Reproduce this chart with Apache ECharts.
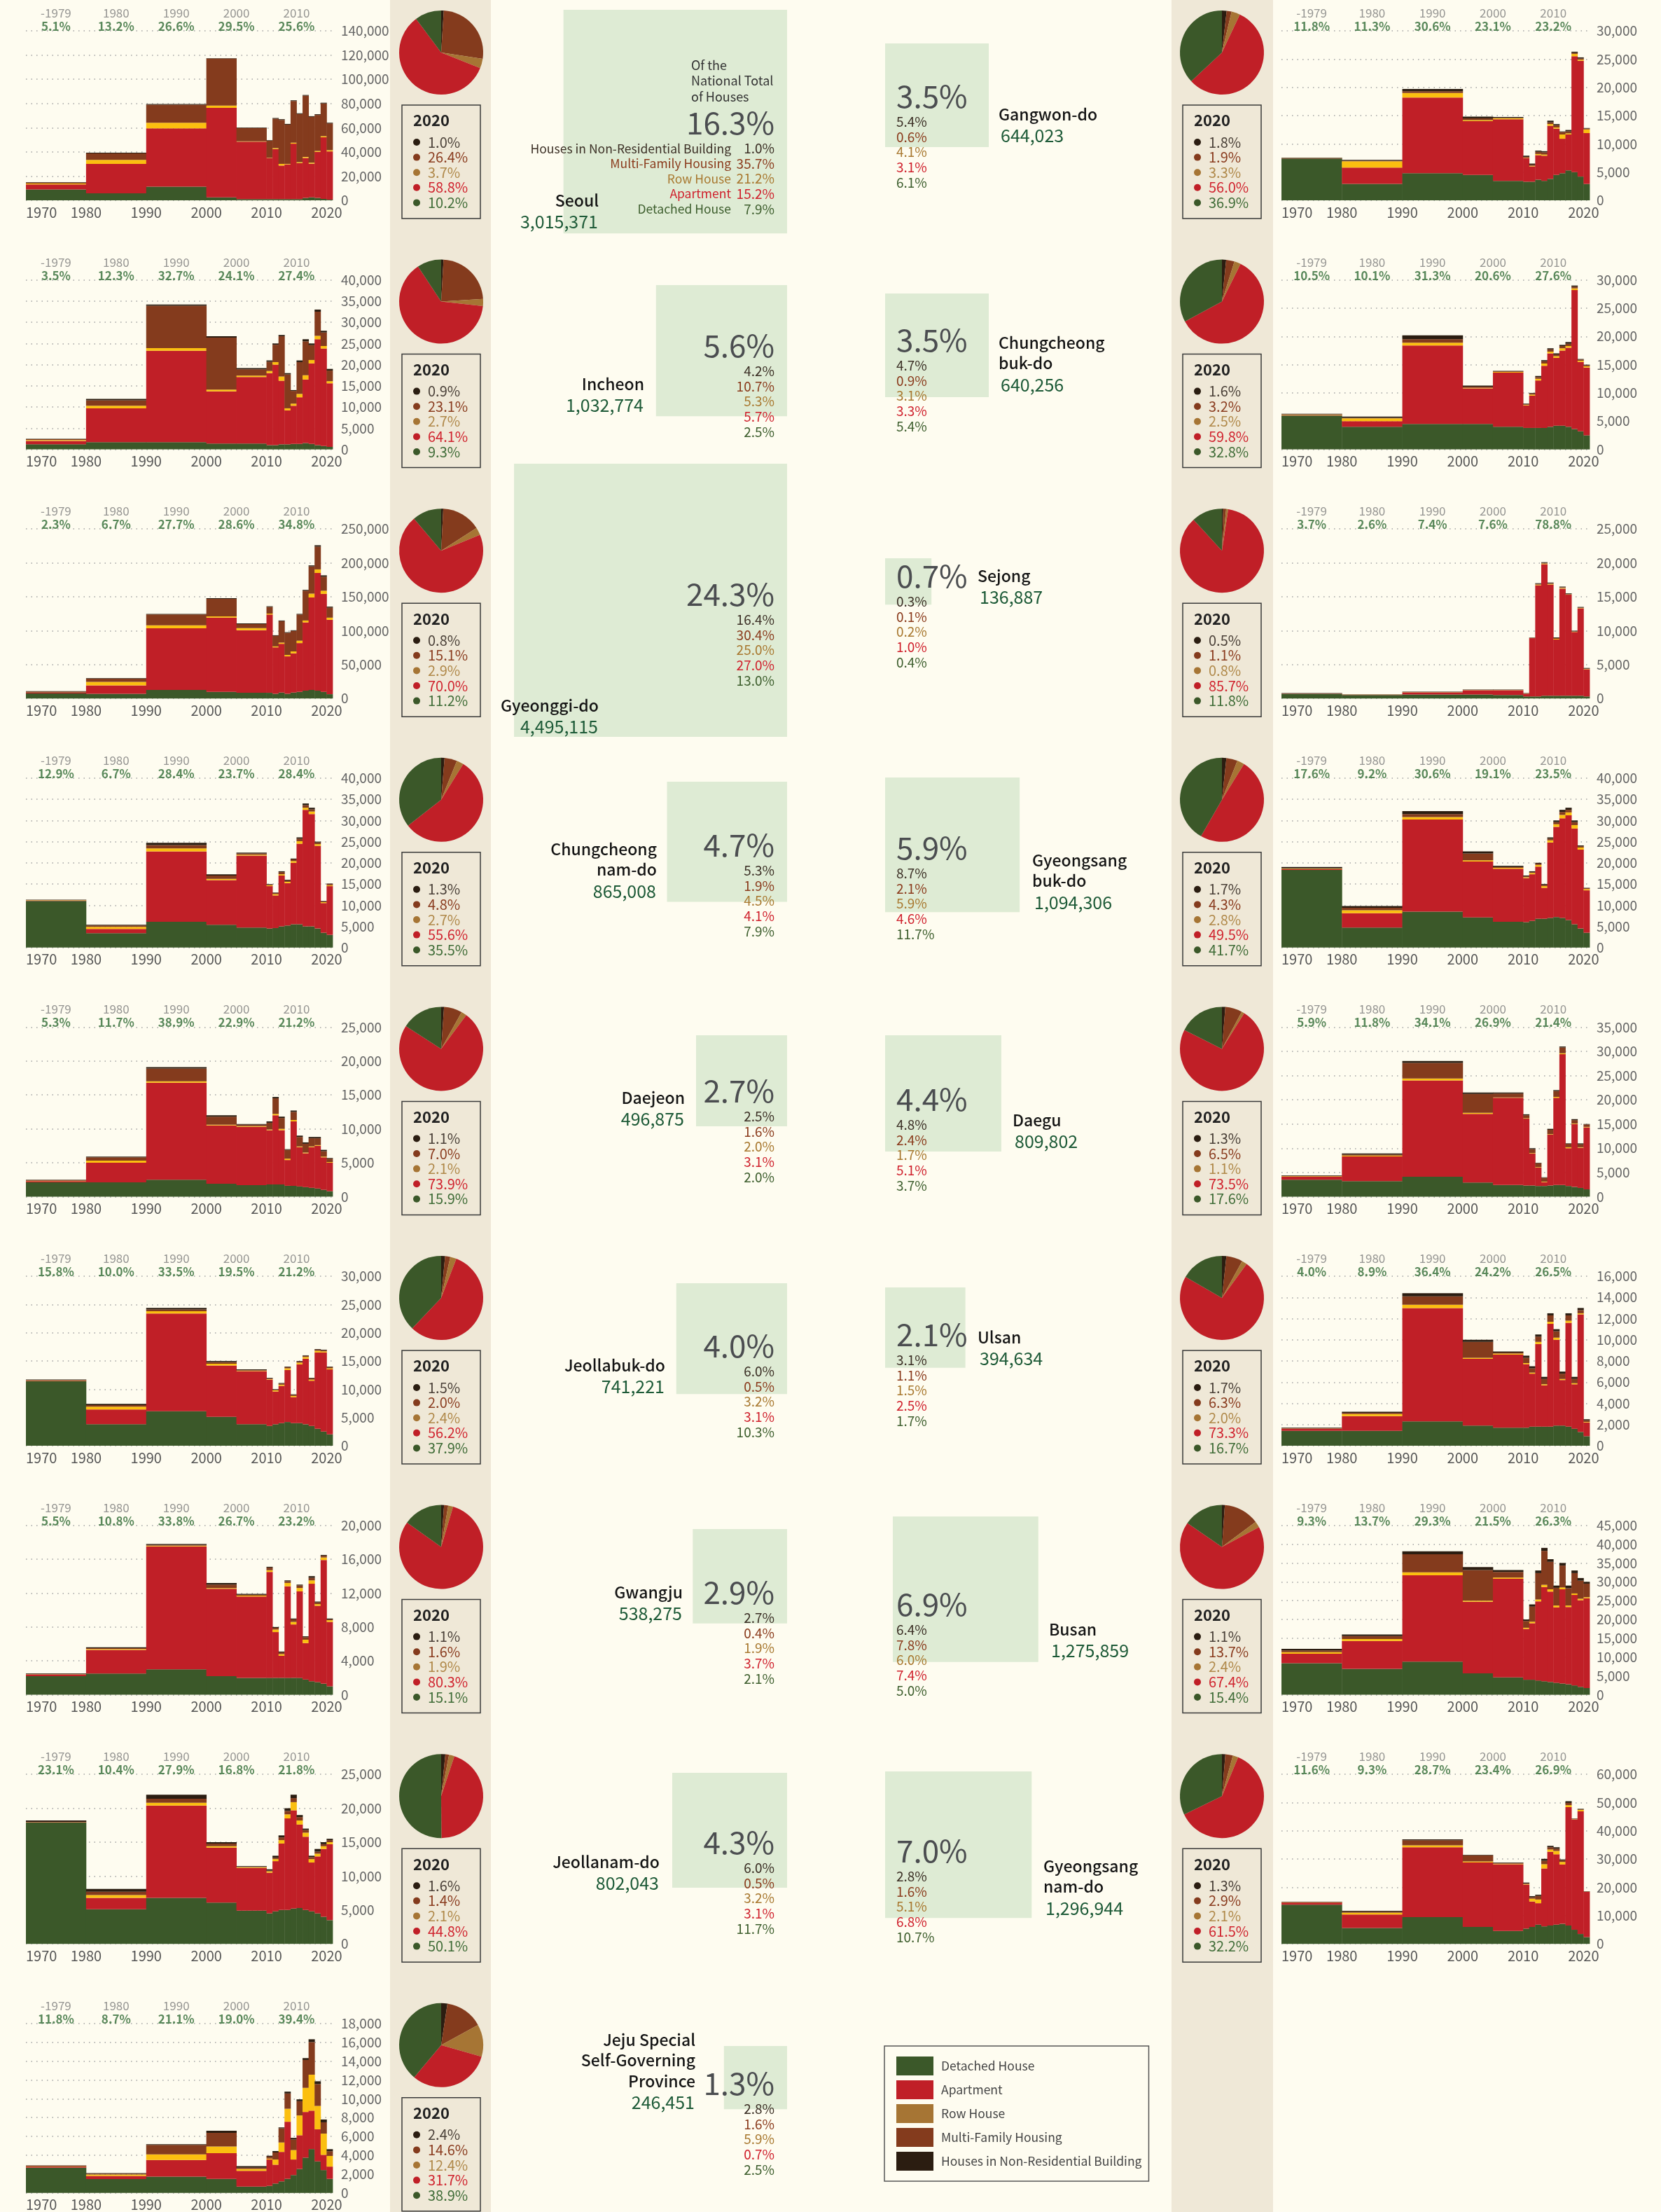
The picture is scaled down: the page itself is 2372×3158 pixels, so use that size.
<!DOCTYPE html>
<html>
<head>
<meta charset="utf-8">
<script src="https://cdn.jsdelivr.net/npm/echarts@6/dist/echarts.min.js"></script>
<style>
  html, body { margin: 0; padding: 0; background: #fefcf0; }
  #main { width: 2372px; height: 3158px; }
</style>
</head>
<body>
<div id="main"></div>
<script>
// periods: 1970s, 1980s, 1990s, 2000-04, 2005-09, then one bar per year 2010..2020
const periodStart = [1970, 1980, 1990, 2000, 2005, 2010, 2011, 2012, 2013, 2014, 2015, 2016, 2017, 2018, 2019, 2020]
const periodEnd   = [1980, 1990, 2000, 2005, 2010, 2011, 2012, 2013, 2014, 2015, 2016, 2017, 2018, 2019, 2020, 2021]
const decadeYears = ['-1979', '1980', '1990', '2000', '2010']
const decadeMid = [1975, 1985, 1995, 2005, 2015]
// top-to-bottom order used by pies, 2020 boxes and share lists
const typeNames = ['Houses in Non-Residential Building', 'Multi-Family Housing', 'Row House', 'Apartment', 'Detached House']
const legendOrder = ['Detached House', 'Apartment', 'Row House', 'Multi-Family Housing', 'Houses in Non-Residential Building']

// houses built per year, by type
const seoulDet = [8900, 5800, 11300, 2500, 1000, 1000, 1000, 1000, 1000, 1000, 1000, 2000, 2500, 2000, 1200, 600]
const seoulApt = [4300, 24300, 48100, 73800, 47500, 34000, 41300, 27700, 28700, 45800, 29700, 33000, 27800, 38000, 50800, 39800]
const seoulRow = [700, 3300, 4700, 2000, 200, 200, 800, 1400, 400, 800, 800, 800, 800, 800, 1000, 1000]
const seoulMul = [800, 5400, 14900, 38800, 11100, 14100, 24300, 36300, 32400, 34400, 39800, 50600, 37800, 29700, 27000, 22100]
const seoulNon = [400, 600, 600, 400, 400, 400, 600, 600, 600, 600, 600, 600, 600, 600, 600, 600]

const incheonDet = [1200, 1700, 1700, 1400, 1400, 1000, 1000, 1200, 1200, 1300, 1300, 1500, 1300, 1000, 800, 600]
const incheonApt = [800, 8000, 21600, 12300, 15700, 17000, 19000, 15000, 8000, 9000, 11000, 15000, 19000, 25000, 23000, 15000]
const incheonRow = [200, 600, 600, 400, 300, 500, 600, 1000, 500, 500, 800, 1000, 800, 800, 600, 500]
const incheonMul = [200, 1300, 10000, 12300, 1500, 2200, 4100, 9500, 8000, 3000, 7500, 8000, 3500, 5700, 3200, 2500]
const incheonNon = [100, 300, 300, 300, 300, 300, 300, 300, 300, 200, 400, 500, 400, 500, 400, 400]

const gyeonggiDet = [7500, 7000, 12600, 9800, 8400, 8400, 7000, 8800, 7000, 8800, 9800, 11600, 12600, 11600, 9800, 6300]
const gyeonggiApt = [1000, 12300, 90800, 109400, 92200, 115400, 68400, 71800, 55100, 57800, 71900, 100600, 136400, 173500, 144500, 109700]
const gyeonggiRow = [300, 5200, 4600, 1800, 3200, 1400, 1400, 1800, 2100, 2800, 3500, 2800, 5600, 5300, 4600, 3200]
const gyeonggiMul = [1600, 4600, 15800, 25900, 5900, 9800, 15500, 31600, 32600, 30200, 38600, 44000, 40200, 33600, 20700, 14800]
const gyeonggiNon = [500, 700, 1000, 1100, 1100, 1000, 1000, 1000, 1000, 1000, 1000, 1200, 1500, 2000, 2000, 1500]

const chungnamDet = [11000, 3400, 6100, 5400, 4700, 4500, 4600, 5000, 5200, 5500, 5500, 5000, 5000, 4500, 3500, 3000]
const chungnamApt = [100, 1000, 16600, 10500, 17000, 10000, 7700, 12000, 10000, 14500, 19000, 27500, 26500, 19500, 7000, 11500]
const chungnamRow = [50, 500, 700, 300, 200, 200, 300, 300, 300, 400, 600, 500, 600, 400, 200, 200]
const chungnamMul = [50, 300, 800, 800, 300, 200, 300, 500, 300, 400, 600, 600, 500, 400, 200, 300]
const chungnamNon = [100, 200, 500, 300, 200, 100, 100, 200, 200, 200, 300, 400, 400, 200, 100, 100]

const daejeonDet = [2100, 2100, 2500, 1900, 1700, 1800, 1800, 1800, 1600, 1600, 1500, 1400, 1300, 1200, 1000, 800]
const daejeonApt = [200, 2900, 14300, 8600, 8600, 8000, 10200, 8000, 3800, 9500, 5800, 5000, 6000, 6300, 4800, 4200]
const daejeonRow = [50, 300, 200, 100, 100, 100, 200, 200, 200, 200, 100, 100, 100, 100, 100, 100]
const daejeonMul = [100, 500, 1900, 1200, 200, 1000, 2300, 1600, 1300, 1200, 1400, 1300, 1200, 1000, 800, 500]
const daejeonNon = [50, 100, 200, 200, 100, 200, 200, 200, 100, 200, 200, 200, 200, 200, 200, 100]

const jeonbukDet = [11400, 3800, 6100, 5100, 3800, 3500, 3800, 4000, 4200, 4000, 4000, 3800, 3500, 3000, 2500, 2000]
const jeonbukApt = [100, 2600, 17300, 9100, 9400, 8200, 5800, 6600, 9200, 4600, 10400, 11600, 8000, 13500, 14000, 11500]
const jeonbukRow = [50, 500, 400, 300, 100, 100, 200, 200, 300, 200, 300, 300, 200, 300, 200, 200]
const jeonbukMul = [50, 300, 300, 300, 100, 100, 100, 200, 200, 200, 200, 200, 200, 200, 200, 200]
const jeonbukNon = [100, 200, 300, 200, 100, 100, 100, 100, 100, 100, 100, 100, 100, 100, 100, 100]

const gwangjuDet = [2200, 2500, 3000, 2200, 2000, 2000, 2000, 2000, 2000, 2000, 2000, 1800, 1600, 1500, 1300, 1000]
const gwangjuApt = [200, 2800, 14500, 10300, 9600, 12500, 5400, 2600, 10800, 6300, 10200, 4300, 11500, 9000, 14600, 7600]
const gwangjuRow = [20, 100, 100, 100, 100, 200, 300, 200, 400, 300, 400, 400, 400, 200, 300, 200]
const gwangjuMul = [50, 100, 100, 400, 100, 300, 200, 200, 200, 300, 300, 300, 300, 200, 200, 100]
const gwangjuNon = [50, 100, 100, 200, 100, 100, 100, 100, 100, 100, 100, 100, 200, 100, 100, 100]

const jeonnamDet = [17900, 5100, 6800, 6100, 4900, 4500, 4800, 5000, 5000, 5200, 5300, 5000, 4800, 4500, 4000, 3500]
const jeonnamApt = [50, 1700, 13600, 8100, 6300, 6000, 7400, 9800, 13500, 14500, 12300, 10800, 7200, 8400, 10000, 11200]
const jeonnamRow = [20, 400, 400, 200, 100, 200, 300, 500, 600, 1200, 600, 600, 500, 400, 400, 300]
const jeonnamMul = [30, 500, 600, 400, 50, 100, 200, 400, 500, 600, 500, 400, 300, 300, 300, 300]
const jeonnamNon = [200, 400, 600, 200, 100, 200, 300, 300, 400, 500, 300, 200, 200, 400, 300, 200]

const jejuDet = [2680, 1480, 1730, 1500, 680, 750, 1000, 1230, 1500, 1900, 2550, 3750, 4660, 3350, 2430, 1500]
const jejuApt = [120, 320, 1770, 2730, 1670, 2800, 2000, 3130, 6060, 1650, 3580, 4850, 4080, 3410, 1620, 1300]
const jejuRow = [20, 150, 600, 700, 200, 100, 550, 1000, 1380, 1000, 2100, 2560, 3820, 2480, 2250, 1130]
const jejuMul = [80, 100, 1000, 1450, 130, 200, 750, 1500, 1620, 1120, 1510, 2960, 3460, 2320, 1200, 500]
const jejuNon = [30, 50, 80, 220, 170, 100, 150, 100, 200, 180, 200, 200, 300, 300, 300, 220]

const gangwonDet = [7400, 2900, 4800, 4500, 3450, 3300, 3300, 3660, 3450, 3800, 4500, 4800, 5300, 5000, 4200, 2900]
const gangwonApt = [50, 2900, 13400, 9500, 10900, 4200, 2700, 4340, 4450, 9400, 8200, 6100, 6350, 20500, 20500, 9000]
const gangwonRow = [20, 1100, 800, 200, 200, 50, 100, 200, 200, 300, 200, 750, 200, 400, 200, 650]
const gangwonMul = [30, 100, 300, 300, 50, 150, 200, 400, 400, 300, 400, 450, 350, 200, 200, 150]
const gangwonNon = [70, 150, 400, 300, 150, 200, 200, 200, 200, 300, 200, 100, 250, 200, 200, 100]

const chungbukDet = [6000, 4000, 4500, 4500, 4000, 3800, 3800, 3800, 3800, 4000, 4200, 4200, 4000, 3600, 3200, 2500]
const chungbukApt = [100, 1000, 13900, 6300, 9600, 4000, 5700, 8400, 11000, 13000, 12000, 13300, 14000, 24600, 12300, 12000]
const chungbukRow = [50, 500, 500, 100, 100, 100, 200, 300, 400, 300, 300, 400, 300, 300, 200, 200]
const chungbukMul = [50, 100, 600, 200, 100, 100, 200, 300, 400, 400, 300, 400, 400, 300, 200, 200]
const chungbukNon = [100, 200, 700, 200, 100, 100, 100, 200, 200, 200, 200, 200, 300, 200, 100, 100]

const sejongDet = [700, 500, 600, 600, 500, 300, 300, 300, 400, 400, 400, 400, 400, 400, 400, 300]
const sejongApt = [20, 50, 300, 600, 700, 400, 8600, 16400, 19400, 16400, 8300, 15800, 14900, 9400, 12900, 4000]
const sejongRow = [10, 20, 30, 30, 30, 20, 20, 100, 100, 100, 100, 100, 50, 50, 50, 50]
const sejongMul = [20, 20, 30, 30, 30, 30, 30, 100, 100, 100, 100, 100, 50, 50, 50, 50]
const sejongNon = [50, 30, 40, 40, 40, 50, 50, 100, 100, 100, 100, 100, 100, 100, 100, 100]

const gyeongbukDet = [18300, 4700, 8500, 7100, 6100, 6000, 6300, 6800, 6800, 7000, 7200, 7000, 6500, 5500, 4500, 3500]
const gyeongbukApt = [200, 3400, 21700, 13200, 12500, 10400, 11000, 12300, 7300, 17800, 21300, 23500, 24700, 22600, 18600, 10000]
const gyeongbukRow = [100, 700, 600, 300, 200, 200, 300, 400, 400, 500, 600, 800, 700, 800, 500, 300]
const gyeongbukMul = [100, 600, 700, 1600, 200, 200, 200, 300, 300, 400, 500, 700, 600, 700, 300, 200]
const gyeongbukNon = [300, 400, 700, 500, 300, 200, 200, 200, 200, 300, 400, 500, 500, 400, 200, 100]

const daeguDet = [3500, 3200, 4100, 2900, 2400, 2300, 2300, 2200, 2200, 2300, 2400, 2400, 2200, 2000, 1800, 1500]
const daeguApt = [600, 5100, 19900, 14200, 18000, 13800, 6600, 3800, 800, 10500, 18000, 27000, 7800, 13000, 8300, 12800]
const daeguRow = [100, 200, 400, 200, 100, 100, 100, 100, 100, 100, 200, 200, 200, 100, 100, 100]
const daeguMul = [100, 200, 3200, 3900, 800, 600, 800, 800, 800, 900, 1200, 1200, 700, 700, 600, 500]
const daeguNon = [100, 200, 400, 300, 200, 200, 200, 100, 100, 200, 200, 200, 100, 200, 200, 100]

const ulsanDet = [1400, 1400, 2300, 1900, 1700, 1700, 1800, 1800, 1800, 1800, 1900, 1900, 1800, 1600, 1300, 900]
const ulsanApt = [200, 1400, 10700, 6300, 6900, 6000, 5000, 7800, 3900, 9700, 8100, 4300, 9800, 4200, 11100, 1300]
const ulsanRow = [20, 200, 300, 100, 100, 100, 100, 200, 100, 200, 200, 100, 200, 100, 100, 50]
const ulsanMul = [30, 100, 800, 1500, 100, 500, 400, 500, 500, 600, 600, 500, 500, 400, 300, 150]
const ulsanNon = [50, 100, 300, 200, 100, 200, 200, 200, 200, 200, 200, 200, 200, 200, 200, 100]

const busanDet = [8400, 6900, 8800, 5700, 4600, 4000, 4000, 3800, 3600, 3400, 3200, 3000, 2800, 2500, 2100, 1800]
const busanApt = [2500, 7400, 22900, 19000, 26200, 13500, 15000, 21000, 25000, 24000, 20000, 25000, 20500, 24000, 23000, 23800]
const busanRow = [400, 500, 800, 300, 300, 300, 400, 500, 600, 600, 500, 500, 400, 400, 400, 300]
const busanMul = [500, 800, 4800, 8100, 1500, 1800, 4000, 7000, 9000, 7300, 4700, 5800, 4600, 5400, 4800, 3600]
const busanNon = [400, 400, 800, 800, 500, 400, 600, 700, 800, 700, 600, 700, 700, 700, 700, 500]

const gyeongnamDet = [13900, 5600, 9500, 6000, 4600, 5400, 6000, 6800, 6200, 6500, 6800, 7100, 6500, 5000, 3500, 2400]
const gyeongnamApt = [700, 4800, 24700, 22800, 23600, 15600, 9000, 7600, 20500, 26100, 24900, 21000, 41900, 39000, 43400, 16000]
const gyeongnamRow = [100, 600, 700, 400, 200, 200, 1000, 1300, 1500, 800, 1200, 900, 700, 100, 500, 50]
const gyeongnamMul = [100, 400, 1800, 2100, 200, 200, 500, 1300, 1200, 800, 800, 600, 800, 200, 200, 100]
const gyeongnamNon = [100, 300, 300, 200, 200, 300, 400, 400, 700, 500, 500, 300, 600, 100, 200, 100]

// left column (top to bottom), then right column (top to bottom)
const regionLines = [
    ['Seoul'], ['Incheon'], ['Gyeonggi-do'], ['Chungcheong', 'nam-do'], ['Daejeon'], ['Jeollabuk-do'],
    ['Gwangju'], ['Jeollanam-do'], ['Jeju Special', 'Self-Governing', 'Province'],
    ['Gangwon-do'], ['Chungcheong', 'buk-do'], ['Sejong'], ['Gyeongsang', 'buk-do'], ['Daegu'],
    ['Ulsan'], ['Busan'], ['Gyeongsang', 'nam-do']
]
const regionTotal = [3015371, 1032774, 4495115, 865008, 496875, 741221, 538275, 802043, 246451,
    644023, 640256, 136887, 1094306, 809802, 394634, 1275859, 1296944]
const nationalShare = [16.3, 5.6, 24.3, 4.7, 2.7, 4.0, 2.9, 4.3, 1.3, 3.5, 3.5, 0.7, 5.9, 4.4, 2.1, 6.9, 7.0]
// share of the national total for each type: non-res, multi-family, row, apartment, detached
const typeShare = [
    [1.0, 35.7, 21.2, 15.2, 7.9], [4.2, 10.7, 5.3, 5.7, 2.5], [16.4, 30.4, 25.0, 27.0, 13.0],
    [5.3, 1.9, 4.5, 4.1, 7.9], [2.5, 1.6, 2.0, 3.1, 2.0], [6.0, 0.5, 3.2, 3.1, 10.3],
    [2.7, 0.4, 1.9, 3.7, 2.1], [6.0, 0.5, 3.2, 3.1, 11.7], [2.8, 1.6, 5.9, 0.7, 2.5],
    [5.4, 0.6, 4.1, 3.1, 6.1], [4.7, 0.9, 3.1, 3.3, 5.4], [0.3, 0.1, 0.2, 1.0, 0.4],
    [8.7, 2.1, 5.9, 4.6, 11.7], [4.8, 2.4, 1.7, 5.1, 3.7], [3.1, 1.1, 1.5, 2.5, 1.7],
    [6.4, 7.8, 6.0, 7.4, 5.0], [2.8, 1.6, 5.1, 6.8, 10.7]
]
// 2020 stock by type: non-res, multi-family, row, apartment, detached
const pie2020 = [
    [1.0, 26.4, 3.7, 58.8, 10.2], [0.9, 23.1, 2.7, 64.1, 9.3], [0.8, 15.1, 2.9, 70.0, 11.2],
    [1.3, 4.8, 2.7, 55.6, 35.5], [1.1, 7.0, 2.1, 73.9, 15.9], [1.5, 2.0, 2.4, 56.2, 37.9],
    [1.1, 1.6, 1.9, 80.3, 15.1], [1.6, 1.4, 2.1, 44.8, 50.1], [2.4, 14.6, 12.4, 31.7, 38.9],
    [1.8, 1.9, 3.3, 56.0, 36.9], [1.6, 3.2, 2.5, 59.8, 32.8], [0.5, 1.1, 0.8, 85.7, 11.8],
    [1.7, 4.3, 2.8, 49.5, 41.7], [1.3, 6.5, 1.1, 73.5, 17.6], [1.7, 6.3, 2.0, 73.3, 16.7],
    [1.1, 13.7, 2.4, 67.4, 15.4], [1.3, 2.9, 2.1, 61.5, 32.2]
]
const decadeShare = [
    [5.1, 13.2, 26.6, 29.5, 25.6], [3.5, 12.3, 32.7, 24.1, 27.4], [2.3, 6.7, 27.7, 28.6, 34.8],
    [12.9, 6.7, 28.4, 23.7, 28.4], [5.3, 11.7, 38.9, 22.9, 21.2], [15.8, 10.0, 33.5, 19.5, 21.2],
    [5.5, 10.8, 33.8, 26.7, 23.2], [23.1, 10.4, 27.9, 16.8, 21.8], [11.8, 8.7, 21.1, 19.0, 39.4],
    [11.8, 11.3, 30.6, 23.1, 23.2], [10.5, 10.1, 31.3, 20.6, 27.6], [3.7, 2.6, 7.4, 7.6, 78.8],
    [17.6, 9.2, 30.6, 19.1, 23.5], [5.9, 11.8, 34.1, 26.9, 21.4], [4.0, 8.9, 36.4, 24.2, 26.5],
    [9.3, 13.7, 29.3, 21.5, 26.3], [11.6, 9.3, 28.7, 23.4, 26.9]
]
const yMax = [140000, 40000, 250000, 40000, 25000, 30000, 20000, 25000, 18000,
    30000, 30000, 25000, 40000, 35000, 16000, 45000, 60000]
const yStep = [20000, 5000, 50000, 5000, 5000, 5000, 4000, 5000, 2000,
    5000, 5000, 5000, 5000, 5000, 2000, 5000, 10000]

const barTables = [
    [seoulDet, seoulApt, seoulRow, seoulMul, seoulNon],
    [incheonDet, incheonApt, incheonRow, incheonMul, incheonNon],
    [gyeonggiDet, gyeonggiApt, gyeonggiRow, gyeonggiMul, gyeonggiNon],
    [chungnamDet, chungnamApt, chungnamRow, chungnamMul, chungnamNon],
    [daejeonDet, daejeonApt, daejeonRow, daejeonMul, daejeonNon],
    [jeonbukDet, jeonbukApt, jeonbukRow, jeonbukMul, jeonbukNon],
    [gwangjuDet, gwangjuApt, gwangjuRow, gwangjuMul, gwangjuNon],
    [jeonnamDet, jeonnamApt, jeonnamRow, jeonnamMul, jeonnamNon],
    [jejuDet, jejuApt, jejuRow, jejuMul, jejuNon],
    [gangwonDet, gangwonApt, gangwonRow, gangwonMul, gangwonNon],
    [chungbukDet, chungbukApt, chungbukRow, chungbukMul, chungbukNon],
    [sejongDet, sejongApt, sejongRow, sejongMul, sejongNon],
    [gyeongbukDet, gyeongbukApt, gyeongbukRow, gyeongbukMul, gyeongbukNon],
    [daeguDet, daeguApt, daeguRow, daeguMul, daeguNon],
    [ulsanDet, ulsanApt, ulsanRow, ulsanMul, ulsanNon],
    [busanDet, busanApt, busanRow, busanMul, busanNon],
    [gyeongnamDet, gyeongnamApt, gyeongnamRow, gyeongnamMul, gyeongnamNon]
]

// ---- layout ----
const panelCol = [0, 0, 0, 0, 0, 0, 0, 0, 0, 1, 1, 1, 1, 1, 1, 1, 1]
const panelRow = [0, 1, 2, 3, 4, 5, 6, 7, 8, 0, 1, 2, 3, 4, 5, 6, 7]
const ROW_H = 355.6
const squareTop = [14, 407, 662, 1116, 1478, 1832, 2183, 2531, 2921, 62, 419, 797, 1110, 1478, 1838, 2165, 2529]
const squareEdge = [1124, 1124, 1124, 1124, 1124, 1124, 1124, 1124, 1124, 1264, 1264, 1264, 1264, 1264, 1264, 1275, 1264]
const bigY = [175, 493, 848, 1206, 1557, 1921, 2273, 2630, 2974, 137, 485, 822, 1210, 1569, 1905, 2290, 2642]
const nameX = [855, 920, 855, 938, 978, 950, 975, 942, 993, 1426, 1426, 1396, 1474, 1446, 1396, 1498, 1490]
const nameY = [286, 548, 1007, 1212, 1567, 1949, 2273, 2658, 2912, 163, 489, 822, 1228, 1599, 1909, 2326, 2664]

const FONT = '"Noto Sans CJK KR", "Noto Sans", sans-serif'
const barColors = ['#3b5829', '#c01f27', '#fbbf10', '#843b1d', '#2b1d11']   // det, apt, row, multi, non-res
const pieColors = ['#2b1d11', '#843b1d', '#a67534', '#c01f27', '#3b5829']   // typeNames order
const shareColors = ['#3a2e24', '#8a3a1b', '#a8782f', '#cf1f2b', '#3c5d2c']
const boxColors = ['#4a4038', '#8a3c1f', '#b0894a', '#d0242f', '#3f6c37']

const squareSide = share => 79.1 * Math.sqrt(share)

function renderStack(params, api) {
    const x0 = api.value(0), x1 = api.value(1)
    const children = []
    let base = 0
    for (let k = 0; k < 5; k++) {
        const v = api.value(2 + k)
        const a = api.coord([x0, base])
        const b = api.coord([x1, base + v])
        children.push({
            type: 'rect',
            shape: { x: a[0], y: b[1], width: b[0] - a[0] + 0.4, height: a[1] - b[1] },
            style: { fill: barColors[k] }
        })
        base += v
    }
    return { type: 'group', children }
}

function txt(x, y, text, font, fill, align) {
    return {
        type: 'text', x, y, z: 20, silent: true,
        style: { text, font, fill, align, verticalAlign: 'middle', textAlign: align, textVerticalAlign: 'middle' }
    }
}

const grids = [], xAxes = [], yAxes = [], series = []
const graphics = [
    { type: 'rect', z: 0, silent: true, shape: { x: 557, y: 0, width: 144, height: 3158 }, style: { fill: '#efe8d7' } },
    { type: 'rect', z: 0, silent: true, shape: { x: 1673, y: 0, width: 145, height: 3158 }, style: { fill: '#efe8d7' } }
]

regionLines.forEach((lines, i) => {
    const right = panelCol[i] === 1
    const top = panelRow[i] * ROW_H
    grids.push({ left: right ? 1830 : 37, top: top + 44, width: right ? 440 : 438, height: 242 })
    xAxes.push({
        gridIndex: i, type: 'value', min: 1970, max: 2021, interval: 10,
        axisLine: { show: false }, axisTick: { show: false }, splitLine: { show: false },
        axisLabel: {
            color: '#555', fontSize: 20, fontFamily: FONT, margin: 7,
            showMaxLabel: false, alignMinLabel: 'left',
            formatter: v => (v % 10 === 0 ? String(v) : '')
        }
    })
    yAxes.push({
        gridIndex: i, type: 'value', position: 'right', min: 0, max: yMax[i], interval: yStep[i],
        axisLine: { show: false }, axisTick: { show: false },
        splitLine: { show: true, lineStyle: { color: '#a3a3a3', width: 1.5, type: [1.5, 6] } },
        axisLabel: { color: '#666', fontSize: 19, fontFamily: FONT, margin: right ? 10 : 12, formatter: v => v.toLocaleString('en-US') }
    })

    const t = barTables[i]
    series.push({
        type: 'custom', xAxisIndex: i, yAxisIndex: i, silent: true,
        dimensions: ['start', 'end', 'det', 'apt', 'row', 'mul', 'non'],
        encode: { x: ['start', 'end'], y: ['det'] },
        renderItem: renderStack,
        data: periodStart.map((s, k) => [s, periodEnd[k], t[0][k], t[1][k], t[2][k], t[3][k], t[4][k]])
    })
    series.push({
        type: 'scatter', xAxisIndex: i, yAxisIndex: i, silent: true, clip: false, symbolSize: 0, z: 5,
        data: decadeMid.map((m, k) => [m, yMax[i], decadeShare[i][k]]),
        label: {
            show: true, position: 'top', distance: 0, offset: [0, 3],
            formatter: p => '{y|' + decadeYears[p.dataIndex] + '}\n{v|' + p.value[2].toFixed(1) + '%}',
            rich: {
                y: { fontSize: 17, color: '#7a7a7a', lineHeight: 19, fontFamily: FONT },
                v: { fontSize: 17, color: '#2f6a34', fontWeight: 'bold', lineHeight: 19, fontFamily: FONT }
            }
        }
    })
    const pieX = right ? 1745 : 630
    series.push({
        type: 'pie', silent: true, center: [pieX, top + 75], radius: 60, startAngle: 90, clockwise: true,
        label: { show: false }, labelLine: { show: false },
        itemStyle: { borderWidth: 0 },
        data: typeNames.map((n, k) => ({ name: n, value: pie2020[i][k], itemStyle: { color: pieColors[k] } }))
    })

    // 2020 box
    const bx = pieX - 56
    graphics.push({ type: 'rect', z: 5, silent: true, shape: { x: bx, y: top + 150, width: 112, height: 162 },
        style: { fill: 'none', stroke: '#3a3a3a', lineWidth: 1.5 } })
    graphics.push(txt(bx + 16, top + 172, '2020', 'bold 22px ' + FONT, '#222', 'left'))
    pie2020[i].forEach((v, k) => {
        const y = top + 203 + k * 21.6
        graphics.push({ type: 'circle', z: 6, silent: true, shape: { cx: bx + 21, cy: y, r: 5 }, style: { fill: pieColors[k] } })
        graphics.push(txt(bx + 37, y, v.toFixed(1) + '%', '20px ' + FONT, boxColors[k], 'left'))
    })

    // share square
    const side = squareSide(nationalShare[i])
    const sx = right ? squareEdge[i] : squareEdge[i] - side
    graphics.push({ type: 'rect', z: 2, silent: true, shape: { x: sx, y: squareTop[i], width: side, height: side },
        style: { fill: '#deebd4' } })
    const align = right ? 'left' : 'right'
    const px = right ? 1280 : 1106
    graphics.push(txt(px, bigY[i], nationalShare[i].toFixed(1) + '%', '44px ' + FONT, '#4b4d50', align))
    typeShare[i].forEach((v, k) => {
        const y = bigY[i] + 37 + k * 21.6
        graphics.push(txt(px, y, v.toFixed(1) + '%', '19px ' + FONT, shareColors[k], align))
        if (i === 0) graphics.push(txt(1044, y, typeNames[k], '17.5px ' + FONT, shareColors[k], 'right'))
    })

    // region name + total
    lines.forEach((l, k) => {
        graphics.push(txt(nameX[i], nameY[i] + k * 29.5, l, '500 23px ' + FONT, '#141414', align))
    })
    graphics.push(txt(nameX[i] + (right ? 3 : -1), nameY[i] + lines.length * 29.5 + 1,
        regionTotal[i].toLocaleString('en-US'), '25px ' + FONT, '#1d5a37', align))
})

// Seoul caption
;['Of the', 'National Total', 'of Houses'].forEach((l, k) => {
    graphics.push(txt(987, 93 + k * 22.5, l, '18px ' + FONT, '#333', 'left'))
})

const myChart = echarts.init(document.getElementById('main'))
myChart.setOption({
    backgroundColor: '#fefcf0',
    animation: false,
    textStyle: { fontFamily: FONT },
    grid: grids,
    xAxis: xAxes,
    yAxis: yAxes,
    legend: {
        orient: 'vertical', left: 1263, top: 2921, icon: 'rect',
        itemWidth: 53, itemHeight: 27, itemGap: 7, selectedMode: false,
        padding: [15, 10, 15, 17], borderColor: '#555', borderWidth: 1.5,
        textStyle: { fontSize: 17.5, color: '#444', fontFamily: FONT, padding: [0, 0, 0, 6] },
        data: legendOrder
    },
    graphic: graphics,
    series
})
</script>
</body>
</html>
